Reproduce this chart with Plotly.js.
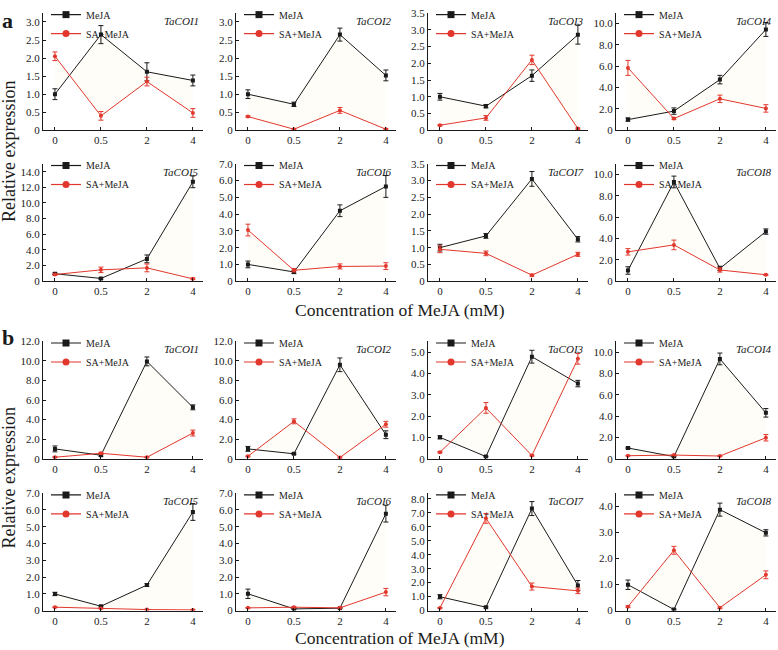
<!DOCTYPE html>
<html><head><meta charset="utf-8">
<script src="https://cdn.plot.ly/plotly-3.0.1.min.js"></script>
<style>html,body{margin:0;padding:0;background:#fff}#chart{width:778px;height:650px}</style>
</head><body><div id="chart"></div>
<script>
// ---------- DATA ----------
const doses = ['0', '0.5', '2', '4'];
const genes = ['TaCOI1','TaCOI2','TaCOI3','TaCOI4','TaCOI5','TaCOI6','TaCOI7','TaCOI8'];
const seriesNames = ['MeJA', 'SA+MeJA'];

// panel a
const aMeJA = [
  [1.0, 2.65, 1.62, 1.38],
  [1.0, 0.72, 2.65, 1.52],
  [1.0, 0.72, 1.63, 2.85],
  [1.0, 1.8, 4.75, 9.45],
  [0.95, 0.35, 2.85, 12.7],
  [1.0, 0.55, 4.2, 5.65],
  [1.0, 1.35, 3.05, 1.25],
  [1.0, 9.3, 1.2, 4.65]
];
const aMeJAerr = [
  [0.15, 0.25, 0.25, 0.15],
  [0.12, 0.06, 0.18, 0.15],
  [0.1, 0.05, 0.17, 0.28],
  [0.15, 0.3, 0.4, 0.65],
  [0.1, 0.1, 0.5, 0.75],
  [0.2, 0.1, 0.35, 0.65],
  [0.1, 0.07, 0.22, 0.08],
  [0.35, 0.55, 0.2, 0.25]
];
const aSA = [
  [2.05, 0.4, 1.35, 0.48],
  [0.38, 0.03, 0.55, 0.03],
  [0.15, 0.37, 2.1, 0.05],
  [5.85, 1.1, 2.95, 2.05],
  [0.85, 1.45, 1.7, 0.3],
  [3.05, 0.65, 0.88, 0.9],
  [0.95, 0.83, 0.18, 0.8],
  [2.75, 3.4, 1.05, 0.6]
];
const aSAerr = [
  [0.12, 0.12, 0.12, 0.12],
  [0.02, 0.02, 0.08, 0.02],
  [0.02, 0.07, 0.14, 0.02],
  [0.7, 0.1, 0.35, 0.35],
  [0.1, 0.35, 0.5, 0.1],
  [0.35, 0.1, 0.15, 0.2],
  [0.1, 0.07, 0.03, 0.06],
  [0.3, 0.45, 0.2, 0.05]
];

// panel b
const bMeJA = [
  [1.0, 0.35, 9.95, 5.25],
  [1.0, 0.5, 9.6, 2.45],
  [1.0, 0.1, 4.78, 3.52],
  [1.0, 0.2, 9.35, 4.3],
  [0.99, 0.26, 1.52, 5.88],
  [1.0, 0.1, 0.14, 5.78],
  [0.99, 0.24, 7.3, 1.8],
  [0.99, 0.04, 3.87, 2.98]
];
const bMeJAerr = [
  [0.3, 0.1, 0.45, 0.25],
  [0.25, 0.08, 0.7, 0.4],
  [0.07, 0.02, 0.3, 0.15],
  [0.08, 0.05, 0.55, 0.4],
  [0.1, 0.04, 0.08, 0.5],
  [0.28, 0.03, 0.03, 0.5],
  [0.15, 0.06, 0.5, 0.35],
  [0.18, 0.02, 0.25, 0.12]
];
const bSA = [
  [0.15, 0.55, 0.15, 2.62],
  [0.25, 3.82, 0.12, 3.52],
  [0.3, 2.38, 0.15, 4.68],
  [0.28, 0.34, 0.25, 1.96],
  [0.2, 0.12, 0.06, 0.04],
  [0.16, 0.2, 0.16, 1.1],
  [0.19, 6.6, 1.72, 1.41],
  [0.15, 2.31, 0.11, 1.37]
];
const bSAerr = [
  [0.05, 0.1, 0.05, 0.3],
  [0.05, 0.25, 0.05, 0.3],
  [0.03, 0.25, 0.03, 0.25],
  [0.03, 0.05, 0.03, 0.3],
  [0.02, 0.02, 0.02, 0.02],
  [0.02, 0.03, 0.03, 0.22],
  [0.03, 0.35, 0.25, 0.2],
  [0.03, 0.15, 0.03, 0.15]
];

// y-axis tick settings per subplot (layout, not data)
const aYMax  = [3.25, 3.25, 3.5, 11, 15, 7, 3.5, 11];
const aYStep = [0.5, 0.5, 0.5, 2, 2, 1, 0.5, 2];
const aYTop  = [3.0, 3.0, 3.5, 10, 14, 7, 3.5, 10];
const bYMax  = [12, 12, 5.5, 11, 7, 7, 8.4, 4.5];
const bYStep = [2, 2, 1, 2, 1, 1, 1, 1];
const bYTop  = [12, 12, 5, 10, 7, 7, 8, 4];

// ---------- LAYOUT ----------
const W = 778, H = 650;
const colLeft = [43, 236, 428, 616];
const colW = 160;
const rowTop = [4, 157, 337, 491];
const rowBot = [123, 276, 456, 610];
const BLACK = '#1a1a1a', RED = '#e2372c';
const FONT = '"Liberation Serif", "Times New Roman", Times, serif';

const px2x = p => p / W;
const px2y = p => 1 - p / H;

const data = [];
const legendTraces = [];
const layout = {
  width: W, height: H,
  margin: {l: 0, r: 0, t: 0, b: 0},
  paper_bgcolor: '#fff', plot_bgcolor: 'rgba(0,0,0,0)',
  font: {family: FONT, color: BLACK, size: 11},
  showlegend: true,
  annotations: [], shapes: []
};

function fmt(v) { return v === 0 ? '0' : v.toFixed(1); }

const panels = [
  {M: aMeJA, Me: aMeJAerr, S: aSA, Se: aSAerr, ymax: aYMax, step: aYStep, top: aYTop, row0: 0},
  {M: bMeJA, Me: bMeJAerr, S: bSA, Se: bSAerr, ymax: bYMax, step: bYStep, top: bYTop, row0: 2}
];

let idx = 0;
panels.forEach((P, pi) => {
  for (let g = 0; g < 8; g++) {
    idx++;
    const row = P.row0 + Math.floor(g / 4);
    const col = g % 4;
    const xa = 'xaxis' + (idx === 1 ? '' : idx);
    const ya = 'yaxis' + (idx === 1 ? '' : idx);
    const xr = 'x' + (idx === 1 ? '' : idx);
    const yr = 'y' + (idx === 1 ? '' : idx);
    const lg = 'legend' + (idx === 1 ? '' : idx);

    const tv = [];
    for (let v = 0; v <= P.top[g] + 1e-9; v += P.step[g]) tv.push(Math.round(v * 100) / 100);

    layout[xa] = {
      domain: [px2x(colLeft[col]), px2x(colLeft[col] + colW)],
      anchor: yr, type: 'category', range: [-0.26, 3.22],
      showline: true, linecolor: BLACK, linewidth: 1, mirror: false,
      ticks: 'inside', ticklen: 3, tickwidth: 1, tickcolor: BLACK,
      showgrid: false, zeroline: false, fixedrange: true,
      tickfont: {family: FONT, size: 11, color: BLACK}
    };
    layout[ya] = {
      domain: [px2y(rowBot[row]), px2y(rowTop[row])],
      anchor: xr, range: [0, P.ymax[g]],
      showline: true, linecolor: BLACK, linewidth: 1,
      ticks: 'inside', ticklen: 3, tickwidth: 1, tickcolor: BLACK,
      tickvals: tv, ticktext: tv.map(fmt),
      showgrid: false, zeroline: false, fixedrange: true,
      tickfont: {family: FONT, size: 11, color: BLACK}
    };
    layout[lg] = {
      x: px2x(colLeft[col] + 3), y: px2y(rowTop[row] - 13),
      xanchor: 'left', yanchor: 'top', traceorder: 'normal',
      bgcolor: 'rgba(0,0,0,0)', borderwidth: 0,
      font: {family: FONT, size: 10, color: BLACK},
      itemwidth: 30, tracegroupgap: 0
    };

    data.push({
      x: doses, y: P.M[g], xaxis: xr, yaxis: yr, type: 'scatter', mode: 'lines+markers',
      name: seriesNames[0], showlegend: false,
      line: {color: BLACK, width: 1},
      marker: {symbol: 'square', size: 4, color: BLACK},
      error_y: {type: 'data', array: P.Me[g], visible: true, color: BLACK, thickness: 1, width: 2.5},
      hoverinfo: 'skip'
    });
    data.push({
      x: doses, y: P.S[g], xaxis: xr, yaxis: yr, type: 'scatter', mode: 'lines+markers',
      name: seriesNames[1], showlegend: false,
      fill: 'tonexty', fillcolor: 'rgba(245,235,195,0.12)',
      line: {color: RED, width: 1},
      marker: {symbol: 'circle', size: 4, color: RED},
      error_y: {type: 'data', array: P.Se[g], visible: true, color: RED, thickness: 1, width: 2.5},
      hoverinfo: 'skip'
    });
    legendTraces.push({
      x: [null], y: [null], xaxis: xr, yaxis: yr, type: 'scatter', mode: 'lines+markers',
      name: seriesNames[0], legend: lg, showlegend: true,
      line: {color: BLACK, width: 1.2}, marker: {symbol: 'square', size: 7, color: BLACK}
    });
    legendTraces.push({
      x: [null], y: [null], xaxis: xr, yaxis: yr, type: 'scatter', mode: 'lines+markers',
      name: seriesNames[1], legend: lg, showlegend: true,
      line: {color: RED, width: 1.2}, marker: {symbol: 'circle', size: 7, color: RED}
    });

    layout.annotations.push({
      xref: 'paper', yref: 'paper',
      x: px2x(colLeft[col] + colW - 2), y: px2y(rowTop[row] + 8),
      xanchor: 'right', yanchor: 'middle', showarrow: false,
      text: '<i>' + genes[g] + '</i>',
      font: {family: FONT, size: 11, color: BLACK}
    });
  }
});

// panel letters and shared titles
const panelLabels = ['a', 'b'];
const panelLabelY = [12, 333];
const yTitleY = [145, 476];
const xTitleY = [305, 638];
for (let p = 0; p < 2; p++) {
  layout.annotations.push({
    xref: 'paper', yref: 'paper', x: px2x(8), y: px2y(panelLabelY[p]),
    xanchor: 'center', yanchor: 'middle', showarrow: false,
    text: '<b>' + panelLabels[p] + '</b>', font: {family: FONT, size: 22, color: BLACK}
  });
  layout.annotations.push({
    xref: 'paper', yref: 'paper', x: px2x(9), y: px2y(yTitleY[p]),
    xanchor: 'center', yanchor: 'middle', showarrow: false, textangle: -90,
    text: 'Relative expression', font: {family: FONT, size: 18, color: BLACK}
  });
  layout.annotations.push({
    xref: 'paper', yref: 'paper', x: px2x(400), y: px2y(xTitleY[p]),
    xanchor: 'center', yanchor: 'middle', showarrow: false,
    text: 'Concentration of MeJA (mM)', font: {family: FONT, size: 17.5, color: BLACK}
  });
}

Plotly.newPlot('chart', data.concat(legendTraces), layout, {staticPlot: true, displayModeBar: false});
</script></body></html>
